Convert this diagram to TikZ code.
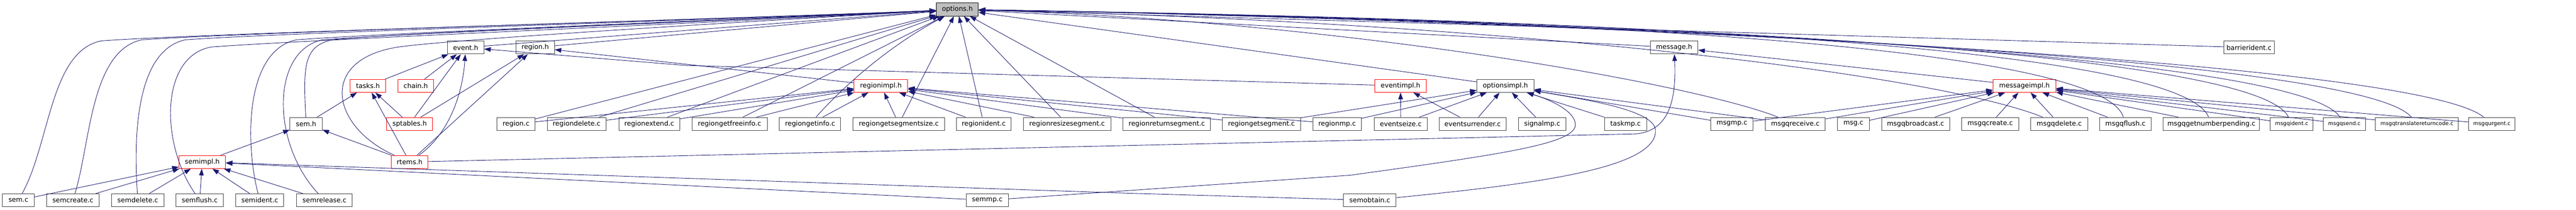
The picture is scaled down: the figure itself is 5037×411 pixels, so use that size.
\documentclass[tikz,border=0pt]{standalone}
\usepackage{fontspec}
\setmainfont{DejaVu Sans}
\usetikzlibrary{arrows.meta}
\definecolor{edgeblue}{RGB}{25,25,112}
\definecolor{boxgray}{RGB}{64,64,64}

\begin{document}
\begin{tikzpicture}
[x=1pt,y=-1pt,
filebox/.style={rectangle,draw=boxgray,line width=1pt,fill=white,inner sep=0pt,minimum height=25.5pt,font=\fontsize{13}{15}\selectfont},
truncbox/.style={filebox,draw=red},
rootbox/.style={filebox,draw=black,fill=black!25},
narrowtext/.style={font=\fontsize{10.5}{12}\selectfont},
incl/.style={draw=edgeblue,line width=0.9pt,-{Triangle[length=13pt,width=9pt]}}]
\useasboundingbox (0,0) rectangle (5037,411);

\node[rootbox] (options) at (1872,18.5) [minimum width=82pt] {options.h};

\node[filebox] (event) at (910.5,93) [minimum width=71pt] {event.h};
\node[filebox] (regionh) at (1046.5,93) [minimum width=75pt] {region.h};
\node[filebox] (message) at (3273.5,93) [minimum width=93pt] {message.h};
\node[filebox] (barrierident) at (4397.5,93) [minimum width=99pt] {barrierident.c};

\node[truncbox] (tasks) at (719.5,168) [minimum width=69pt] {tasks.h};
\node[truncbox] (chain) at (813,168) [minimum width=70pt] {chain.h};
\node[truncbox] (regionimpl) at (1722.5,168) [minimum width=105pt] {regionimpl.h};
\node[truncbox] (eventimpl) at (2738.5,168) [minimum width=101pt] {eventimpl.h};
\node[filebox] (optionsimpl) at (2943.5,168) [minimum width=111pt] {optionsimpl.h};
\node[truncbox] (messageimpl) at (3958.5,168) [minimum width=123pt] {messageimpl.h};

\node[filebox] (semh) at (598.5,242.5) [minimum width=63pt] {sem.h};
\node[truncbox] (sptables) at (801,242.5) [minimum width=90pt] {sptables.h};
\node[filebox] (regionc) at (1009,242.5) [minimum width=74pt] {region.c};
\node[filebox] (regiondelete) at (1127.5,242.5) [minimum width=115pt] {regiondelete.c};
\node[filebox] (regionextend) at (1269.5,242.5) [minimum width=119pt] {regionextend.c};
\node[filebox] (regiongetfreeinfo) at (1426.5,242.5) [minimum width=147pt] {regiongetfreeinfo.c};
\node[filebox] (regiongetinfo) at (1584,242.5) [minimum width=120pt] {regiongetinfo.c};
\node[filebox] (regiongetsegmentsize) at (1757.5,242.5) [minimum width=179pt] {regiongetsegmentsize.c};
\node[filebox] (regionident) at (1923.5,242.5) [minimum width=107pt] {regionident.c};
\node[filebox] (regionresizesegment) at (2086.5,242.5) [minimum width=171pt] {regionresizesegment.c};
\node[filebox] (regionreturnsegment) at (2281.5,242.5) [minimum width=171pt] {regionreturnsegment.c};
\node[filebox] (regiongetsegment) at (2466.5,242.5) [minimum width=153pt] {regiongetsegment.c};
\node[filebox] (regionmp) at (2614.5,242.5) [minimum width=95pt] {regionmp.c};
\node[filebox] (eventseize) at (2739,242.5) [minimum width=104pt] {eventseize.c};
\node[filebox] (eventsurrender) at (2879.5,242.5) [minimum width=131pt] {eventsurrender.c};
\node[filebox] (signalmp) at (3015.5,242.5) [minimum width=93pt] {signalmp.c};
\node[filebox] (taskmp) at (3178.5,242.5) [minimum width=83pt] {taskmp.c};
\node[filebox] (msgmp) at (3386.5,242.5) [minimum width=83pt] {msgmp.c};
\node[filebox] (msgqreceive) at (3510.5,242.5) [minimum width=117pt] {msgqreceive.c};
\node[filebox] (msgc) at (3624,242.5) [minimum width=62pt] {msg.c};
\node[filebox] (msgqbroadcast) at (3745.5,242.5) [minimum width=133pt] {msgqbroadcast.c};
\node[filebox] (msgqcreate) at (3891.5,242.5) [minimum width=111pt] {msgqcreate.c};
\node[filebox] (msgqdelete) at (4026.5,242.5) [minimum width=111pt] {msgqdelete.c};
\node[filebox] (msgqflush) at (4156,242.5) [minimum width=100pt] {msgqflush.c};
\node[filebox] (msgqgetnumberpending) at (4324,242.5) [minimum width=188pt] {msgqgetnumberpending.c};
\node[filebox,narrowtext] (msgqident) at (4481,242.5) [minimum width=84pt] {msgqident.c};
\node[filebox,narrowtext] (msgqsend) at (4584,242.5) [minimum width=82pt] {msgqsend.c};
\node[filebox,narrowtext] (msgqtranslatereturncode) at (4726,242.5) [minimum width=162pt] {msgqtranslatereturncode.c};
\node[filebox,narrowtext] (msgqurgent) at (4872.5,242.5) [minimum width=91pt] {msgqurgent.c};

\node[truncbox] (semimpl) at (395.5,317) [minimum width=91pt] {semimpl.h};
\node[truncbox] (rtems) at (801,317) [minimum width=72pt] {rtems.h};

\node[filebox] (semc) at (36,392) [minimum width=62pt] {sem.c};
\node[filebox] (semcreate) at (142.5,392) [minimum width=103pt] {semcreate.c};
\node[filebox] (semdelete) at (269.5,392) [minimum width=103pt] {semdelete.c};
\node[filebox] (semflush) at (390.5,392) [minimum width=93pt] {semflush.c};
\node[filebox] (semident) at (508,392) [minimum width=94pt] {semident.c};
\node[filebox] (semrelease) at (634.5,392) [minimum width=109pt] {semrelease.c};
\node[filebox] (semmp) at (1930.5,392) [minimum width=83pt] {semmp.c};
\node[filebox] (semobtain) at (2678.5,392) [minimum width=103pt] {semobtain.c};

% long curves round the left into options.h
\draw[incl] (semc) .. controls (98,280) and (98,100) .. (198,80) .. controls (398,65) and (1500,35) .. (options);
\draw[incl] (semcreate) .. controls (177,280) and (177,100) .. (277,78) .. controls (477,63) and (1500,35) .. (options);
\draw[incl] (semdelete) .. controls (262,280) and (262,100) .. (362,78) .. controls (562,63) and (1500,36) .. (options);
\draw[incl] (semflush) .. controls (313,280) and (313,110) .. (413,92) .. controls (613,77) and (1500,40) .. (options);
\draw[incl] (semident) .. controls (479,280) and (479,100) .. (579,78) .. controls (779,63) and (1500,36) .. (options);
\draw[incl] (semrelease) .. controls (530,280) and (530,100) .. (630,78) .. controls (830,63) and (1500,37) .. (options);
\draw[incl] (semh) .. controls (593,130) and (593,90) .. (650,78) .. controls (800,62) and (1500,38) .. (options);
\draw[incl] (rtems) .. controls (650,250) and (620,120) .. (773,93) .. controls (860,78) and (1500,40) .. (options);

\draw[incl] (semc) -- (semimpl);
\draw[incl] (semcreate) -- (semimpl);
\draw[incl] (semdelete) -- (semimpl);
\draw[incl] (semflush) -- (semimpl);
\draw[incl] (semident) -- (semimpl);
\draw[incl] (semrelease) -- (semimpl);
\draw[incl] (semmp) -- (semimpl);
\draw[incl] (semobtain) -- (2200,378) -- (semimpl);

\draw[incl] (semimpl) -- (semh);
\draw[incl] (rtems) -- (semh);
\draw[incl] (semh) -- (tasks);
\draw[incl] (rtems) -- (tasks);
\draw[incl] (sptables) -- (tasks);
\draw[incl] (tasks) -- (event);
\draw[incl] (chain) -- (event);
\draw[incl] (sptables) -- (event);
\draw[incl] (rtems) .. controls (880,260) and (905,180) .. (event);
\draw[incl] (sptables) -- (regionh);
\draw[incl] (rtems) -- (regionh);
\draw[incl] (rtems) -- (3200,262) .. controls (3262,255) and (3278,200) .. (message);

\draw[incl] (event) -- (options);
\draw[incl] (regionh) -- (options);
\draw[incl] (eventimpl) -- (1340,128) -- (event);
\draw[incl] (regionimpl) -- (regionh);

% region sources
\draw[incl] (regionc) -- (options);
\draw[incl] (regiondelete) -- (options);
\draw[incl] (regionextend) -- (options);
\draw[incl] (regiongetfreeinfo) -- (options);
\draw[incl] (regiongetinfo) .. controls (1630,190) and (1720,100) .. (options);
\draw[incl] (regiongetsegmentsize) -- (options);
\draw[incl] (regionident) -- (options);
\draw[incl] (regionresizesegment) -- (options);
\draw[incl] (regionreturnsegment) -- (options);
\draw[incl] (regionc) -- (regionimpl);
\draw[incl] (regiondelete) -- (regionimpl);
\draw[incl] (regionextend) -- (regionimpl);
\draw[incl] (regiongetfreeinfo) -- (regionimpl);
\draw[incl] (regiongetinfo) -- (regionimpl);
\draw[incl] (regiongetsegmentsize) -- (regionimpl);
\draw[incl] (regionident) -- (regionimpl);
\draw[incl] (regionresizesegment) -- (regionimpl);
\draw[incl] (regionreturnsegment) -- (regionimpl);
\draw[incl] (regiongetsegment) -- (regionimpl);
\draw[incl] (regionmp) -- (regionimpl);

% event and options impl
\draw[incl] (eventseize) -- (eventimpl);
\draw[incl] (eventsurrender) -- (eventimpl);
\draw[incl] (optionsimpl) -- (options);
\draw[incl] (regiongetsegment) -- (optionsimpl);
\draw[incl] (regionmp) -- (optionsimpl);
\draw[incl] (eventseize) -- (optionsimpl);
\draw[incl] (eventsurrender) -- (optionsimpl);
\draw[incl] (signalmp) -- (optionsimpl);
\draw[incl] (taskmp) -- (optionsimpl);
\draw[incl] (msgmp) -- (optionsimpl);
\draw[incl] (msgqreceive) -- (optionsimpl);
\draw[incl] (semmp) -- (2640,343) .. controls (2950,300) and (3090,280) .. (3080,240) .. controls (3075,215) and (3030,195) .. (optionsimpl);
\draw[incl] (semobtain) .. controls (3000,360) and (3240,330) .. (3237,255) .. controls (3235,215) and (3100,195) .. (optionsimpl);

% message side
\draw[incl] (message) -- (options);
\draw[incl] (barrierident) -- (options);
\draw[incl] (messageimpl) -- (message);
\draw[incl] (msgqreceive) .. controls (3300,160) and (2600,40) .. (options);
\draw[incl] (msgqdelete) .. controls (3800,150) and (3000,45) .. (options);
\draw[incl] (msgqflush) .. controls (4100,60) and (2600,30) .. (options);
\draw[incl] (msgqgetnumberpending) .. controls (4250,60) and (2600,30) .. (options);
\draw[incl] (msgqident) .. controls (4400,70) and (2600,30) .. (options);
\draw[incl] (msgqsend) .. controls (4480,80) and (2600,30) .. (options);
\draw[incl] (msgqtranslatereturncode) .. controls (4600,90) and (2600,30) .. (options);
\draw[incl] (msgqurgent) .. controls (4700,100) and (2600,30) .. (options);

\draw[incl] (msgmp) -- (messageimpl);
\draw[incl] (msgqreceive) -- (messageimpl);
\draw[incl] (msgc) -- (messageimpl);
\draw[incl] (msgqbroadcast) -- (messageimpl);
\draw[incl] (msgqcreate) -- (messageimpl);
\draw[incl] (msgqdelete) -- (messageimpl);
\draw[incl] (msgqflush) -- (messageimpl);
\draw[incl] (msgqgetnumberpending) -- (messageimpl);
\draw[incl] (msgqident) -- (messageimpl);
\draw[incl] (msgqsend) -- (messageimpl);
\draw[incl] (msgqtranslatereturncode) -- (messageimpl);
\draw[incl] (msgqurgent) -- (messageimpl);
\end{tikzpicture}
\end{document}
